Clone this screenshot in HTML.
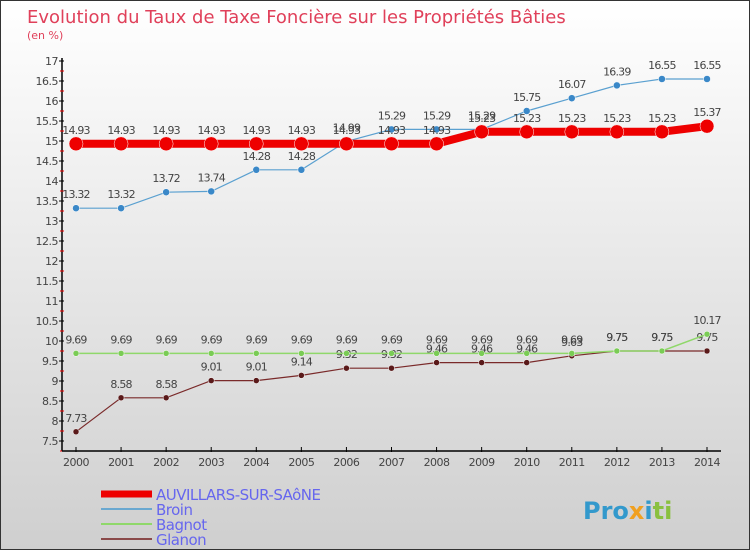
<!DOCTYPE html>
<html><head><meta charset="utf-8"><style>
body{margin:0}
#c{width:750px;height:550px;position:relative;background:linear-gradient(#ffffff,#cfcfcf);box-sizing:border-box;border:1px solid #333;overflow:hidden;font-family:"DejaVu Sans","Liberation Sans",sans-serif}
</style></head><body>
<div id="c">
<svg id="s" width="750" height="550" style="position:absolute;left:0;top:0"></svg>
</div>
<script>
const years=[2000,2001,2002,2003,2004,2005,2006,2007,2008,2009,2010,2011,2012,2013,2014];
const auvillars=[14.93,14.93,14.93,14.93,14.93,14.93,14.93,14.93,14.93,15.23,15.23,15.23,15.23,15.23,15.37];
const broin=[13.32,13.32,13.72,13.74,14.28,14.28,14.99,15.29,15.29,15.29,15.75,16.07,16.39,16.55,16.55];
const bagnot=[9.69,9.69,9.69,9.69,9.69,9.69,9.69,9.69,9.69,9.69,9.69,9.69,9.75,9.75,10.17];
const glanon=[7.73,8.58,8.58,9.01,9.01,9.14,9.32,9.32,9.46,9.46,9.46,9.63,9.75,9.75,9.75];
const yTicks=[7.5,8,8.5,9,9.5,10,10.5,11,11.5,12,12.5,13,13.5,14,14.5,15,15.5,16,16.5,17];
const NS="http://www.w3.org/2000/svg",s=document.getElementById('s');
const X=i=>75+i*(706-75)/14, Y=v=>140-(v-15)*40;
function el(t,a,p){const e=document.createElementNS(NS,t);for(const k in a)e.setAttribute(k,a[k]);(p||s).appendChild(e);return e;}
function tx(x,y,str,a){const e=el('text',Object.assign({x:x,y:y},a));e.textContent=str;return e;}
let t=tx(26,22,"Evolution du Taux de Taxe Foncière sur les Propriétés Bâties",{fill:'#e0405a','font-size':18});

t=tx(26,38,"(en %)",{fill:'#e0405a','font-size':11});

let ax=el('line',{x1:61,y1:57,x2:61,y2:450,stroke:'#000','stroke-width':1.5});

yTicks.forEach(v=>{const y=Y(v);
 let l=el('line',{x1:58,y1:y,x2:63,y2:y,stroke:'#000'});
 let m=el('line',{x1:59,y1:y+10,x2:63,y2:y+10,stroke:'#e00'});
 let tl=tx(57,y+4,String(v),{'text-anchor':'end','font-size':11,fill:'#444','letter-spacing':'-0.5'});
});
let xa=el('line',{x1:61,y1:450,x2:720,y2:450,stroke:'#000','stroke-width':1.5});

years.forEach((yr,i)=>{const x=X(i);
 let l=el('line',{x1:x,y1:446,x2:x,y2:451,stroke:'#000'});
 let tl=tx(x,465,String(yr),{'text-anchor':'middle','font-size':11,fill:'#444','letter-spacing':'-0.5'});
});
function series(data,color,w,r,ptColor,name){
 const g=el('g',{});
 const p=el('polyline',{points:data.map((v,i)=>X(i)+','+Y(v)).join(' '),fill:'none',stroke:color,'stroke-width':w},g);
 
 data.forEach((v,i)=>{const c=el('circle',{cx:X(i),cy:Y(v),r:r,fill:ptColor,stroke:'#fff','stroke-width':0.5},g);
  
  const l=tx(X(i),Y(v)-10,String(v),{'text-anchor':'middle','font-size':11,fill:'#444','letter-spacing':'-0.8'},g);
  });
}
series(glanon,'#7a2a2a',1.2,3,'#5a1a1a','glanon');
series(bagnot,'#8fd86a',1.5,3,'#7acc55','bagnot');
series(broin,'#5aa0d0',1.2,3.5,'#3a88c8','broin');
series(auvillars,'#ee0000',8,7,'#ee0000','auvillars');
const leg=[['AUVILLARS-SUR-SAôNE','#ee0000',7],['Broin','#6aa8d0',2],['Bagnot','#8fd86a',2],['Glanon','#8a4a4a',2]];
leg.forEach((d,i)=>{const y=493+i*15;
 let l=el('line',{x1:100,y1:y,x2:151,y2:y,stroke:d[1],'stroke-width':d[2]});
 let t=tx(155,y+6,d[0],{'font-size':15,fill:'#6666ee','letter-spacing':'-0.5'});
});
t=tx(582,518,"Pro",{'font-size':24,fill:'#3399cc','font-weight':'bold'});

const ts=el('tspan',{fill:'#f0a020'},t);ts.textContent='x';
const ts2=el('tspan',{fill:'#3399cc'},t);ts2.textContent='i';
const ts3=el('tspan',{fill:'#8ac040'},t);ts3.textContent='ti';
</script>
</body></html>
